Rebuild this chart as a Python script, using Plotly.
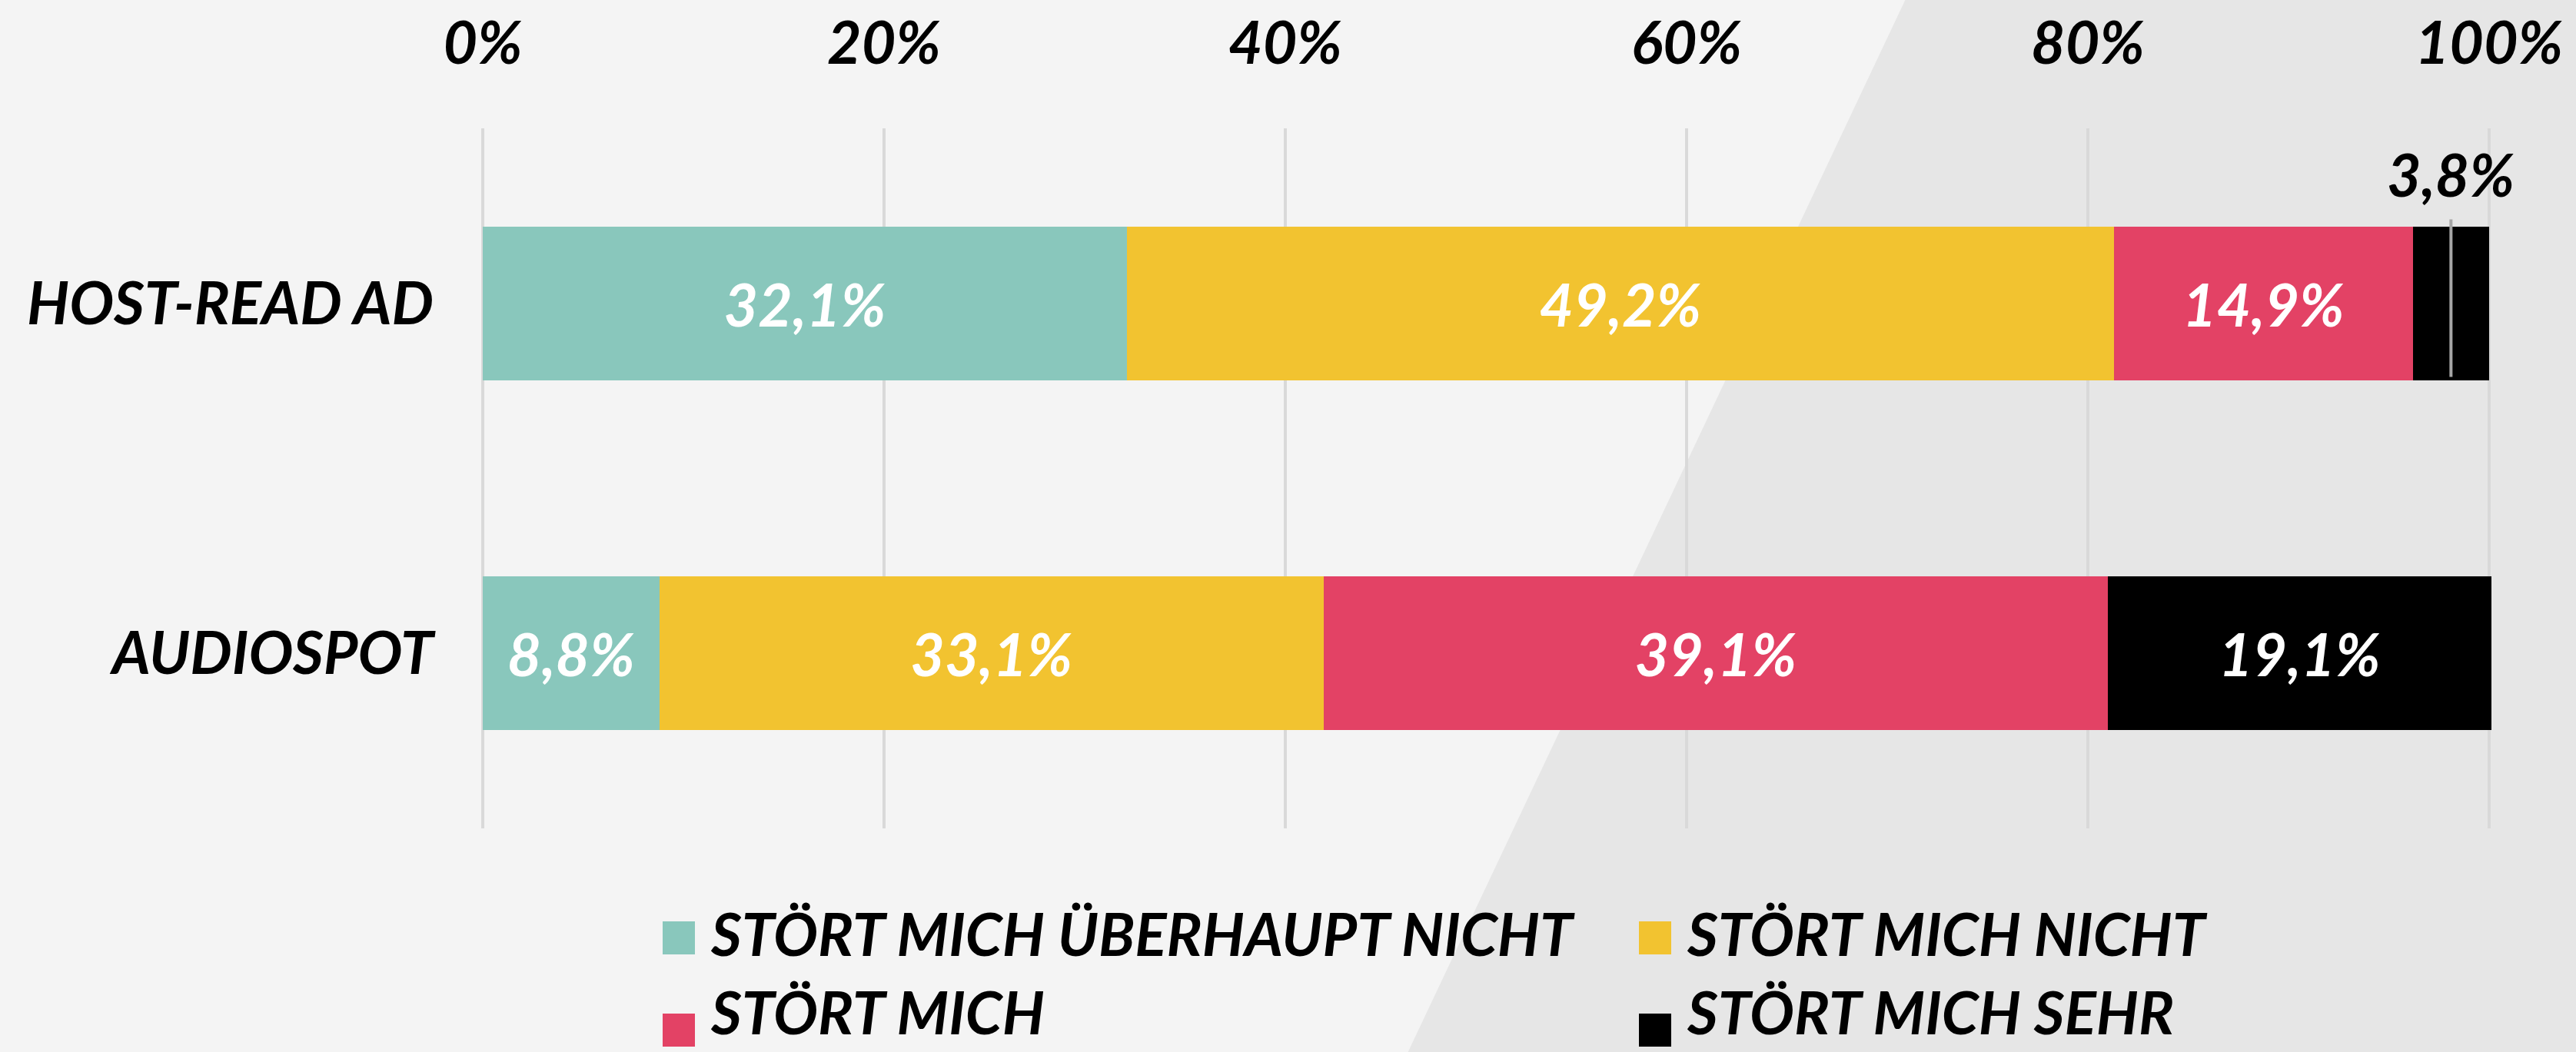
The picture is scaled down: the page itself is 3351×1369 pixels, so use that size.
import plotly.graph_objects as go

# data
categories = ["HOST-READ AD", "AUDIOSPOT"]
series_names = ["STÖRT MICH ÜBERHAUPT NICHT", "STÖRT MICH NICHT", "STÖRT MICH", "STÖRT MICH SEHR"]
host_read = [32.1, 49.2, 14.9, 3.8]
audiospot = [8.8, 33.1, 39.1, 19.1]
colors = ["#89C7BC", "#F2C330", "#E34265", "#000000"]
tick_vals = [0, 20, 40, 60, 80, 100]
tick_text = ["0%", "20%", "40%", "60%", "80%", "100%"]

W, H = 3351, 1369
ML, MR, MT, MB = 615, 100, 167, 291
FONT = "Lato"
FS = 77


def px_x(px):
    return (px - ML) / (W - ML - MR)


def px_y(py):
    return (H - MB - py) / (H - MT - MB)


def fmt(v):
    return f"{v:.1f}".replace(".", ",") + "%"


def tfont(color='black'):
    return dict(family=FONT, size=FS, color=color, weight='bold', style='italic')


rows = [host_read, audiospot]
fig = go.Figure()

small_labels = []
for i, name in enumerate(series_names):
    vals = [r[i] for r in rows]
    texts = []
    for j, v in enumerate(vals):
        if v < 5:
            texts.append("")
            base = sum(rows[j][:i])
            small_labels.append((base + v / 2, j, fmt(v)))
        else:
            texts.append(fmt(v))
    fig.add_trace(go.Bar(
        y=categories,
        x=vals,
        orientation='h',
        name=name,
        marker=dict(color=colors[i], line=dict(width=0)),
        text=texts,
        textposition='inside',
        insidetextanchor='middle',
        constraintext='none',
        textfont=tfont('white'),
        showlegend=False,
        hoverinfo='skip',
    ))

# labels for thin segments, with a leader line
for xc, j, txt in small_labels:
    fig.add_shape(type='line', xref='x', yref='y', x0=xc, x1=xc, y0=j - 0.24, y1=j + 0.21,
                  line=dict(color='#a6a6a6', width=4), layer='above')
    fig.add_annotation(x=xc, y=j - 0.37, xref='x', yref='y', text=txt, showarrow=False,
                       font=tfont(), xanchor='center', yanchor='middle')

# diagonal background panel
p = [(2502, -50), (W + 50, -50), (W + 50, H + 50), (1833 - 25, H + 50)]
path = "M " + " L ".join(f"{px_x(a):.5f},{px_y(b):.5f}" for a, b in p) + " Z"
fig.add_shape(type='path', xref='paper', yref='paper', path=path,
              fillcolor='#e6e6e6', line=dict(width=0), layer='below')

# custom legend (2 columns)
col_x = [862, 2132]
row_y = [1220, 1340]
text_dy = [-6, -24]
for i, name in enumerate(series_names):
    cx = col_x[i % 2]
    cy = row_y[i // 2]
    fig.add_shape(type='rect', xref='paper', yref='paper',
                  x0=px_x(cx), x1=px_x(cx + 42), y0=px_y(cy - 21), y1=px_y(cy + 22),
                  fillcolor=colors[i], line=dict(width=0))
    fig.add_annotation(x=px_x(cx + 60), y=px_y(cy + text_dy[i // 2]), xref='paper', yref='paper',
                       text=name, showarrow=False, xanchor='left', yanchor='middle', font=tfont())

fig.update_layout(
    width=W, height=H,
    barmode='stack',
    bargap=0.56,
    paper_bgcolor='#f4f4f4',
    plot_bgcolor='rgba(0,0,0,0)',
    margin=dict(l=ML, r=MR, t=MT, b=MB, autoexpand=False),
    font=dict(family=FONT, size=FS, color='black'),
    showlegend=False,
)
fig.update_xaxes(
    side='top', range=[-0.5, 100.5],
    tickvals=tick_vals, ticktext=tick_text,
    showgrid=True, gridcolor='#d9d9d9', gridwidth=4,
    zeroline=False, showline=False, ticks='',
    ticklabelstandoff=68,
    tickfont=tfont(),
)
fig.update_yaxes(
    range=[1.5, -0.5], categoryorder='array', categoryarray=categories,
    showgrid=False, zeroline=False, showline=False, ticks='',
    ticklabelstandoff=50,
    tickfont=tfont(),
)

fig.write_html("out.html", config={'displayModeBar': False},
               post_script="document.body.style.margin='0px';document.body.style.background='#f4f4f4';")
